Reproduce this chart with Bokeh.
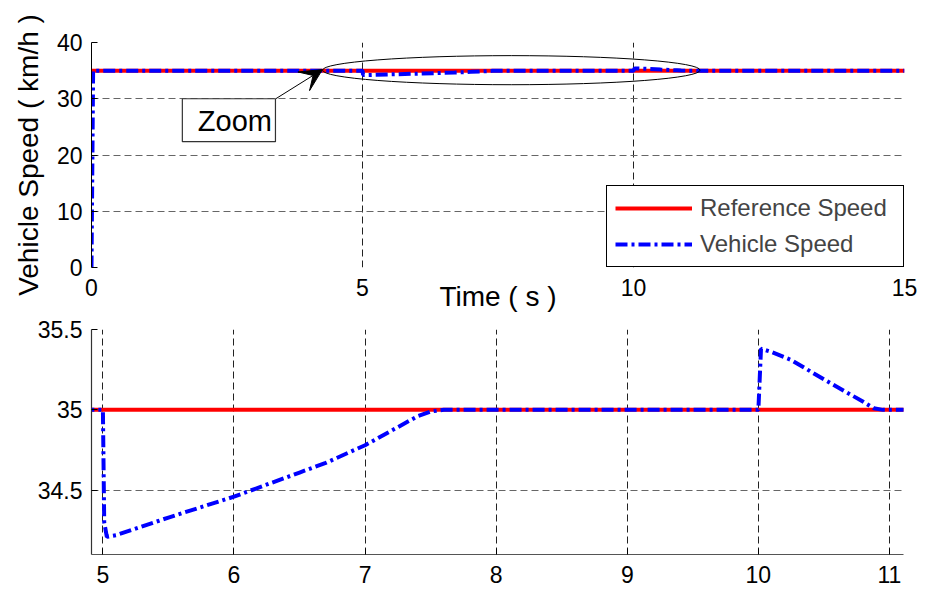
from bokeh.plotting import figure
from bokeh.layouts import column
from bokeh.models import (FixedTicker, Legend, LegendItem, Label, Arrow, VeeHead,
                          BoxAnnotation, ColumnDataSource, Range1d)
from bokeh.embed import file_html
from bokeh.resources import INLINE

# ---- data ----
ref_time = [0, 15]
ref_speed = [35, 35]
veh_time = [0, 0.03, 5.0, 5.01, 5.03, 5.1, 5.5, 6.0, 6.5, 6.7, 7.0, 7.2, 7.4, 7.5, 7.6,
            10.0, 10.02, 10.1, 10.25, 10.5, 10.8, 10.88, 10.95, 11.0, 15.0]
veh_speed = [0, 35, 35, 34.3, 34.21, 34.22, 34.33, 34.46, 34.61, 34.67, 34.78, 34.87, 34.96, 34.99, 35.0,
             35.0, 35.38, 35.36, 35.31, 35.19, 35.05, 35.01, 35.0, 35.0, 35.0]

top_x_ticks = [0, 5, 10, 15]
top_y_ticks = [0, 10, 20, 30, 40]
bot_x_ticks = [5, 6, 7, 8, 9, 10, 11]
bot_y_ticks = [34.5, 35, 35.5]
bot_y_labels = ["34.5", "35", "35.5"]

FONT = "Liberation Sans"
RED = "#ff0000"
BLUE = "#0000ff"
DASH = "12 4 3 4"

ref_src = ColumnDataSource(dict(t=ref_time, v=ref_speed))
veh_src = ColumnDataSource(dict(t=veh_time, v=veh_speed))


def style(p, xticks, yticks):
    p.xaxis.ticker = FixedTicker(ticks=xticks)
    p.yaxis.ticker = FixedTicker(ticks=yticks)
    for ax in (p.xaxis[0], p.yaxis[0]):
        ax.major_label_text_font = FONT
        ax.major_label_text_font_size = "23px"
        ax.major_label_text_color = "black"
        ax.minor_tick_line_color = None
        ax.major_tick_in = 6
        ax.major_tick_out = 0
        ax.major_tick_line_color = "black"
        ax.major_label_standoff = 9
    p.xaxis.major_label_standoff = 11
    p.xgrid.grid_line_dash = "7 4"
    p.ygrid.grid_line_dash = "7 4"
    p.xgrid.grid_line_color = "#222222"
    p.ygrid.grid_line_color = "#666666"
    p.xgrid.grid_line_alpha = 1
    p.ygrid.grid_line_alpha = 1
    p.xgrid.grid_line_width = 1
    p.ygrid.grid_line_width = 1
    p.outline_line_color = None
    p.background_fill_color = "white"
    p.border_fill_color = "white"


# ---- top figure ----
p1 = figure(frame_width=813, frame_height=225, x_range=Range1d(0, 15), y_range=Range1d(0, 40),
            output_backend="svg", toolbar_location=None,
            min_border_left=91, min_border_right=22, min_border_top=42, min_border_bottom=48)
style(p1, top_x_ticks, top_y_ticks)
p1.xaxis.axis_line_color = None
p1.xaxis.major_tick_line_color = None
p1.yaxis.axis_line_color = "black"
p1.yaxis.axis_label = "Vehicle Speed ( km/h )"
p1.xaxis.axis_label = "Time ( s )"
for ax in (p1.xaxis[0], p1.yaxis[0]):
    ax.axis_label_text_font = FONT
    ax.axis_label_text_font_size = "28px"
    ax.axis_label_text_font_style = "normal"
    ax.axis_label_text_color = "black"
p1.yaxis.axis_label_standoff = 10
p1.xaxis.axis_label_standoff = -18

r_ref = p1.line("t", "v", source=ref_src, line_color=RED, line_width=4)
r_veh = p1.line("t", "v", source=veh_src, line_color=BLUE, line_width=4, line_dash=DASH)

# zoom ellipse
p1.ellipse(x=7.745, y=35.08, width=6.965, height=5.17, fill_color=None,
           line_color="black", line_width=1)

# zoom textbox
p1.add_layout(BoxAnnotation(left=1.676, right=3.394, bottom=22.37, top=30.0,
                            fill_color="white", fill_alpha=1,
                            line_color="#333333", line_width=1.2, line_alpha=1))
p1.add_layout(Label(x=2.645, y=26.1, text="Zoom", text_align="center", text_baseline="middle",
                    text_font=FONT, text_font_size="29px", text_color="black"))
p1.add_layout(Arrow(x_start=3.40, y_start=30.0, x_end=4.26, y_end=35.18,
                    line_color="black", line_width=1,
                    end=VeeHead(size=22, fill_color="black", line_color="black")))

legend = Legend(items=[LegendItem(label="Reference Speed", renderers=[r_ref]),
                       LegendItem(label="Vehicle Speed", renderers=[r_veh])],
                location="bottom_right", margin=0, border_line_color="black", border_line_width=1,
                border_line_alpha=1, background_fill_alpha=1,
                padding=8, spacing=8, label_height=28, glyph_height=28, glyph_width=77,
                label_standoff=8, label_width=195,
                label_text_font=FONT, label_text_font_size="24px")
p1.add_layout(legend)

# ---- bottom figure ----
p2 = figure(frame_width=812, frame_height=225, x_range=Range1d(4.913, 11.107),
            y_range=Range1d(34.1, 35.5),
            output_backend="svg", toolbar_location=None,
            min_border_left=91, min_border_right=23, min_border_top=14, min_border_bottom=35)
style(p2, bot_x_ticks, bot_y_ticks)
p2.yaxis.major_label_overrides = {t: l for t, l in zip(bot_y_ticks, bot_y_labels)}
p2.xaxis.axis_line_color = "#555555"
p2.yaxis.axis_line_color = "#333333"
p2.xaxis.axis_line_width = 1.2
p2.yaxis.axis_line_width = 1.2
p2.line("t", "v", source=ref_src, line_color=RED, line_width=4)
p2.line("t", "v", source=veh_src, line_color=BLUE, line_width=4, line_dash=DASH)

layout = column(p1, p2, spacing=0)
open("out.html", "w").write(file_html(layout, INLINE))
